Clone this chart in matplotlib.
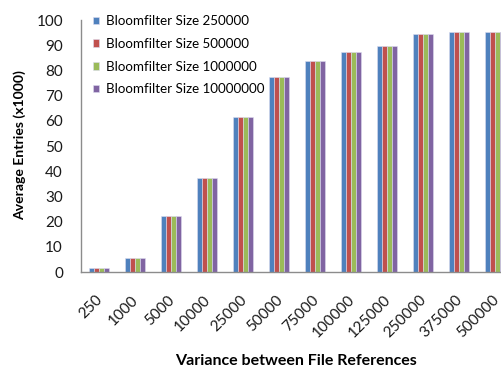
import numpy as np
import matplotlib.pyplot as plt
from matplotlib.transforms import offset_copy

plt.rcParams['font.family'] = ['Lato', 'DejaVu Sans']

variances = ['250', '1000', '5000', '10000', '25000', '50000', '75000',
             '100000', '125000', '250000', '375000', '500000']
sizes = ['Bloomfilter Size 250000', 'Bloomfilter Size 500000',
         'Bloomfilter Size 1000000', 'Bloomfilter Size 10000000']
colors = ['#4F81BD', '#C0504D', '#9BBB59', '#8064A2']

# average entries (x1000), same for every filter size
entries_250k = [1.6, 5.7, 22.3, 37.3, 61.5, 77.2, 83.9, 87.4, 89.8, 94.4, 95.1, 95.4]
entries_500k = [1.6, 5.7, 22.3, 37.3, 61.5, 77.2, 83.9, 87.4, 89.8, 94.4, 95.1, 95.4]
entries_1m = [1.6, 5.7, 22.3, 37.3, 61.5, 77.2, 83.9, 87.4, 89.8, 94.4, 95.1, 95.4]
entries_10m = [1.6, 5.7, 22.3, 37.3, 61.5, 77.2, 83.9, 87.4, 89.8, 94.4, 95.1, 95.4]
series = [entries_250k, entries_500k, entries_1m, entries_10m]

fig = plt.figure(figsize=(5.01, 3.69), dpi=100)
# plot area runs past the right edge of the figure
ax = fig.add_axes([81 / 501, 1 - 272 / 369, 432 / 501, 252 / 369])

x = np.arange(len(variances))
w = 0.145
for i, (vals, lab, c) in enumerate(zip(series, sizes, colors)):
    ax.bar(x + (i - 1.5) * w, vals, w, color=c, label=lab,
           edgecolor='#dcdcf0', linewidth=0.4)

ax.set_xlim(-0.5, len(variances) - 0.5)
ax.set_ylim(0, 100)
ax.set_yticks(range(0, 101, 10))
ax.tick_params(axis='y', length=0, pad=13, labelsize=11, colors='#1a1a1a')
ax.tick_params(axis='x', length=0)
for s in ['top', 'right']:
    ax.spines[s].set_visible(False)
for s in ['left', 'bottom']:
    ax.spines[s].set_color('#8c8c8c')
    ax.spines[s].set_linewidth(1.0)

# rotated category labels, right end tucked under each group
ax.set_xticks(x)
ax.set_xticklabels([])
lab_tr = offset_copy(ax.transData, fig=fig, x=-2.5, y=-15, units='points')
for xi, lab in zip(x, variances):
    ax.text(xi, 0, lab, transform=lab_tr, fontsize=11, rotation=45,
            rotation_mode='anchor', ha='right', va='top', color='#1a1a1a',
            clip_on=False)

# axis titles, centred on the full plot area
fig.text(20 / 501, 1 - 145 / 369, 'Average Entries (x1000)', rotation=90,
         fontsize=10.1, fontweight='bold', ha='center', va='center')
fig.text(296 / 501, 1 - 361 / 369, 'Variance between File References',
         fontsize=11.5, fontweight='bold', ha='center', va='center')

ax.legend(loc='upper left', bbox_to_anchor=(0.015, 1.04), frameon=False,
          fontsize=9.6, handlelength=0.5, handleheight=0.5, handletextpad=0.5,
          labelspacing=0.8, borderaxespad=0)

fig.savefig('out.png', dpi=100)
